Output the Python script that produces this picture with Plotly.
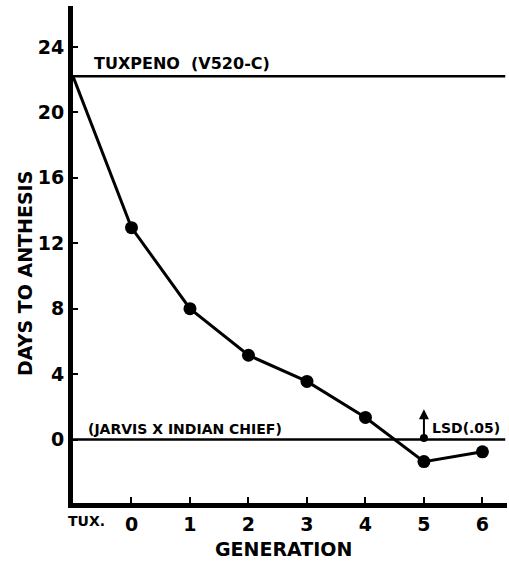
import plotly.graph_objects as go

# Data
gen_labels = ["0", "1", "2", "3", "4", "5", "6"]
gen_positions = [0, 1, 2, 3, 4, 5, 6]
tux_position = -1
tux_value = 22.2
days_to_anthesis = [12.95, 8.0, 5.15, 3.55, 1.35, -1.35, -0.75]
jarvis_value = 0.0
lsd_value = 1.85
y_ticks = [0, 4, 8, 12, 16, 20, 24]

W, H = 509, 565
L, R, T, B = 73, 2, 6, 62
xr = [-1, 6.42]
yr = [-3.88, 26.5]

FONT = "DejaVu Sans"

fig = go.Figure()

# reference lines
fig.add_trace(go.Scatter(x=[xr[0], xr[1] - 0.03], y=[tux_value, tux_value], mode="lines",
                         line=dict(color="black", width=2.5), hoverinfo="skip", showlegend=False))
fig.add_trace(go.Scatter(x=[xr[0], xr[1] - 0.03], y=[jarvis_value, jarvis_value], mode="lines",
                         line=dict(color="black", width=2.5), hoverinfo="skip", showlegend=False))

# curve from Tuxpeno to generation 0
fig.add_trace(go.Scatter(x=[tux_position, gen_positions[0]], y=[tux_value, days_to_anthesis[0]],
                         mode="lines", line=dict(color="black", width=3),
                         hoverinfo="skip", showlegend=False))
# generations
fig.add_trace(go.Scatter(x=gen_positions, y=days_to_anthesis, mode="lines+markers",
                         line=dict(color="black", width=3),
                         marker=dict(color="black", size=13), showlegend=False))

annotations = []
# LSD arrow
annotations.append(dict(x=5, y=lsd_value, ax=5, ay=0, xref="x", yref="y", axref="x", ayref="y",
                        text="", showarrow=True, arrowhead=2, startarrowhead=6,
                        arrowside="end+start", arrowwidth=2, arrowsize=1, startarrowsize=1,
                        arrowcolor="black"))
annotations.append(dict(x=5, y=0, xref="x", yref="y", text="LSD(.05)", showarrow=False,
                        xanchor="left", yanchor="bottom", xshift=6, yshift=2,
                        font=dict(family=FONT, size=14, color="black", weight="bold")))
annotations.append(dict(x=-0.675, y=tux_value, xref="x", yref="y", text="TUXPENO  (V520-C)",
                        showarrow=False, xanchor="left", yanchor="bottom", yshift=1,
                        font=dict(family=FONT, size=16, color="black", weight="bold")))
annotations.append(dict(x=-0.78, y=jarvis_value, xref="x", yref="y",
                        text="(JARVIS X INDIAN CHIEF)",
                        showarrow=False, xanchor="left", yanchor="bottom", yshift=1,
                        font=dict(family=FONT, size=14, color="black", weight="bold")))
# TUX. tick label
annotations.append(dict(x=tux_position, y=0, xref="x", yref="paper", text="TUX.",
                        showarrow=False, xanchor="center", yanchor="middle",
                        xshift=13, yshift=-18,
                        font=dict(family=FONT, size=14, color="black", weight="bold")))
# axis titles
pw = W - L - R
ph = H - T - B
annotations.append(dict(x=(283 - L) / pw, y=(T + ph - 549) / ph, xref="paper", yref="paper",
                        text="GENERATION", showarrow=False, xanchor="center", yanchor="middle",
                        font=dict(family=FONT, size=19, color="black", weight="bold")))
annotations.append(dict(x=(25 - L) / pw, y=(T + ph - 274) / ph, xref="paper", yref="paper",
                        text="DAYS TO ANTHESIS", showarrow=False, textangle=-90,
                        xanchor="center", yanchor="middle",
                        font=dict(family=FONT, size=19, color="black", weight="bold")))

fig.update_layout(
    width=W, height=H,
    margin=dict(l=L, r=R, t=T, b=B),
    plot_bgcolor="white", paper_bgcolor="white",
    showlegend=False,
    annotations=annotations,
    xaxis=dict(range=xr, tickvals=gen_positions, ticktext=gen_labels,
               showgrid=False, zeroline=False, showline=True, linecolor="black", linewidth=5,
               ticks="inside", ticklen=6, tickwidth=2, tickcolor="black",
               tickfont=dict(family=FONT, size=19, color="black", weight="bold")),
    yaxis=dict(range=yr, tickvals=y_ticks, ticktext=[str(v) for v in y_ticks],
               showgrid=False, zeroline=False, showline=True, linecolor="black", linewidth=5,
               ticks="inside", ticklen=5, tickwidth=2, tickcolor="black",
               tickfont=dict(family=FONT, size=19, color="black", weight="bold")),
)

fig.write_html("out.html", config={"displayModeBar": False},
               post_script="document.body.style.margin='0px';document.body.style.overflow='hidden';")
